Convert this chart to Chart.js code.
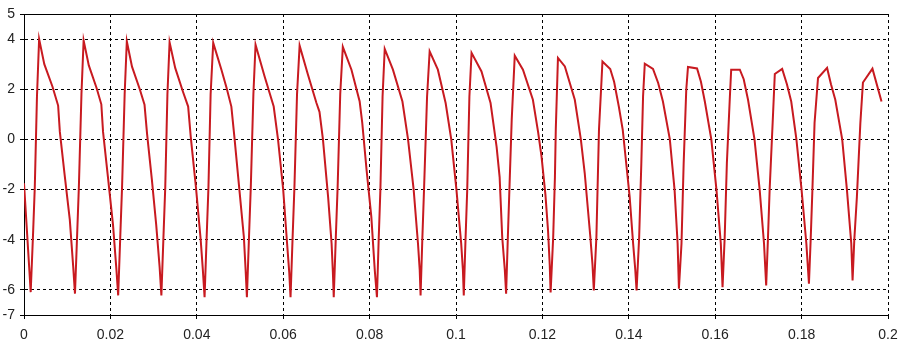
<!DOCTYPE html>
<html>
<head>
<meta charset="utf-8">
<script src="https://cdn.jsdelivr.net/npm/chart.js@4/dist/chart.umd.min.js"></script>
<style>
  html, body { margin: 0; padding: 0; background: #fff; }
  #wrap { width: 900px; height: 345px; position: relative; }
</style>
</head>
<body>
<div id="wrap"><canvas id="chart"></canvas></div>
<script>
/* waveform samples, one line per cycle */
const TIMES = [
  0, 0.0012, 0.00155,
  0.0021, 0.0025, 0.0030, 0.0035, 0.0047, 0.0066, 0.0079, 0.0083, 0.0094, 0.0106, 0.0114, 0.0118,
  0.0123, 0.0127, 0.0133, 0.0138, 0.0150, 0.0168, 0.0179, 0.0183, 0.0194, 0.0206, 0.0214, 0.0218,
  0.0223, 0.0227, 0.0233, 0.0238, 0.0250, 0.0268, 0.0279, 0.0285, 0.0296, 0.0306, 0.0314, 0.0318,
  0.0323, 0.0327, 0.0332, 0.0337, 0.0350, 0.0368, 0.0380, 0.0386, 0.0398, 0.0409, 0.0414, 0.0418,
  0.0423, 0.0427, 0.0432, 0.0438, 0.0457, 0.0469, 0.0480, 0.0487, 0.0498, 0.0509, 0.0513, 0.0516,
  0.0521, 0.0525, 0.0531, 0.0536, 0.0557, 0.0578, 0.0588, 0.0600, 0.0609, 0.0614, 0.0617,
  0.0622, 0.0626, 0.0632, 0.0638, 0.0657, 0.0677, 0.0684, 0.0692, 0.0704, 0.0712, 0.0715, 0.0717,
  0.0722, 0.0726, 0.0732, 0.0738, 0.0758, 0.0777, 0.0783, 0.0793, 0.0804, 0.0812, 0.0817,
  0.0821, 0.0825, 0.0830, 0.0835, 0.0854, 0.0876, 0.0889, 0.0902, 0.0912, 0.0916, 0.0918,
  0.0922, 0.0926, 0.0933, 0.0939, 0.0958, 0.0976, 0.0989, 0.1001, 0.1012, 0.1016, 0.1018,
  0.1022, 0.1026, 0.1031, 0.1036, 0.1059, 0.1080, 0.1094, 0.1101, 0.1107, 0.1113, 0.1116,
  0.1120, 0.1124, 0.1129, 0.1136, 0.1155, 0.1178, 0.1190, 0.1198, 0.1207, 0.1213, 0.1217, 0.1219,
  0.1225, 0.1229, 0.1231, 0.1236, 0.1252, 0.1275, 0.1289, 0.1298, 0.1311, 0.1316, 0.1319,
  0.1325, 0.1331, 0.1337, 0.1339, 0.1357, 0.1366, 0.1377, 0.1386, 0.1394, 0.1402, 0.1410, 0.1415, 0.1418,
  0.1424, 0.1429, 0.1433, 0.1437, 0.1456, 0.1468, 0.1479, 0.1495, 0.1506, 0.1513, 0.1516,
  0.1522, 0.1527, 0.1533, 0.1537, 0.1558, 0.1567, 0.1576, 0.1591, 0.1603, 0.1613, 0.1617,
  0.1622, 0.1627, 0.1634, 0.1637, 0.1657, 0.1666, 0.1676, 0.1691, 0.1703, 0.1713, 0.1718,
  0.1722, 0.1726, 0.1734, 0.1738, 0.1755, 0.1766, 0.1776, 0.1788, 0.1800, 0.1811, 0.1817,
  0.1821, 0.1825, 0.1830, 0.1838, 0.1859, 0.1868, 0.1878, 0.1894, 0.1905, 0.1915, 0.1918,
  0.1922, 0.1928, 0.1936, 0.1942, 0.1964, 0.1985
];
const VOLTS = [
  -1.75, -5.09, -6.09,
  -3.75, -1.9, 1.7, 4.0, 3.0, 2.1, 1.35, 0.3, -1.4, -3.2, -5.1, -6.15,
  -3.8, -1.9, 1.8, 3.95, 2.95, 2.05, 1.4, 0.3, -1.45, -3.4, -5.2, -6.22,
  -3.8, -1.9, 1.8, 3.91, 2.9, 2.0, 1.38, 0.2, -1.6, -3.4, -5.1, -6.22,
  -3.8, -1.9, 1.8, 3.87, 2.85, 1.9, 1.31, 0.1, -1.9, -4.0, -5.2, -6.29,
  -3.8, -1.9, 1.8, 3.85, 2.78, 2.05, 1.31, 0.1, -1.9, -3.9, -5.2, -6.29,
  -3.8, -1.9, 1.8, 3.78, 2.51, 1.31, 0.0, -2.0, -4.15, -5.3, -6.29,
  -3.8, -1.9, 1.8, 3.74, 2.6, 1.45, 1.1, 0.0, -2.3, -4.15, -5.3, -6.29,
  -3.8, -1.9, 1.8, 3.69, 2.78, 1.51, 0.66, -1.22, -3.09, -5.22, -6.29,
  -4.0, -2.0, 1.7, 3.61, 2.78, 1.51, 0.0, -2.0, -4.15, -5.2, -6.22,
  -4.0, -2.0, 1.7, 3.51, 2.78, 1.45, 0.0, -2.0, -4.15, -5.2, -6.22,
  -4.0, -2.0, 1.7, 3.45, 2.71, 1.45, -0.3, -1.5, -3.9, -5.2, -6.15,
  -3.9, -1.8, 0.8, 3.34, 2.78, 1.58, 0.3, -0.69, -2.2, -3.62, -5.0, -6.1,
  -3.89, -1.5, 0.4, 3.25, 2.91, 1.58, 0.0, -1.35, -3.89, -5.0, -6.02,
  -3.89, 0.4, 2.4, 3.11, 2.81, 2.3, 1.3, 0.38, -0.95, -2.29, -4.15, -5.2, -6.02,
  -3.89, -0.95, 1.71, 3.02, 2.81, 2.25, 1.51, 0.0, -2.02, -4.15, -5.95,
  -4.15, -0.95, 1.98, 2.89, 2.83, 2.3, 1.51, 0.0, -2.02, -4.15, -5.89,
  -3.89, -0.95, 1.71, 2.78, 2.78, 2.4, 1.58, 0.0, -2.02, -4.15, -5.82,
  -4.0, -2.02, 1.05, 2.61, 2.81, 2.2, 1.51, 0.0, -2.02, -4.15, -5.75,
  -4.0, -2.02, 0.66, 2.45, 2.85, 2.2, 1.58, 0.0, -2.02, -4.15, -5.62,
  -4.0, -2.29, 0.65, 2.27, 2.82, 1.51
];

const X_TICKS = [0, 0.02, 0.04, 0.06, 0.08, 0.1, 0.12, 0.14, 0.16, 0.18, 0.2];
const X_LABELS = ['0', '0.02', '0.04', '0.06', '0.08', '0.1', '0.12', '0.14', '0.16', '0.18', '0.2'];
const Y_TICKS = [-7, -6, -4, -2, 0, 2, 4, 5];

const LINE_COLOR = '#c81a20';
const FONT = { family: '"Liberation Sans", Arial, sans-serif', size: 14 };

const points = TIMES.map((t, i) => ({ x: t, y: VOLTS[i] }));

new Chart(document.getElementById('chart'), {
  type: 'line',
  data: {
    datasets: [{
      data: points,
      borderColor: LINE_COLOR,
      borderWidth: 2,
      pointRadius: 0,
      tension: 0,
      fill: false,
    }],
  },
  options: {
    responsive: true,
    maintainAspectRatio: false,
    animation: false,
    events: [],
    layout: { padding: { top: 14, right: 12, left: 0, bottom: 0 } },
    plugins: { legend: { display: false }, tooltip: { enabled: false } },
    scales: {
      x: {
        type: 'linear',
        min: 0,
        max: 0.2,
        afterBuildTicks: s => { s.ticks = X_TICKS.map(v => ({ value: v })); },
        afterFit: s => { s.height = 30; s.paddingRight = 0; },
        ticks: {
          color: '#222',
          font: { ...FONT, lineHeight: 1.6 },
          padding: 5,
          maxRotation: 0,
          autoSkip: false,
          callback: (v, i) => X_LABELS[i],
        },
        grid: { color: '#000', lineWidth: 1, tickLength: 4, tickColor: '#000' },
        border: { display: true, color: '#000', width: 1, dash: [3, 3] },
      },
      y: {
        min: -7,
        max: 5,
        afterBuildTicks: s => { s.ticks = Y_TICKS.map(v => ({ value: v })); },
        afterFit: s => { s.width = 24; },
        ticks: { color: '#222', font: FONT, padding: 5, autoSkip: false },
        grid: { color: '#000', lineWidth: 1, tickLength: 4, tickColor: '#000' },
        border: {
          display: true, color: '#000', width: 1,
          dash: c => (c.tick && c.tick.value === 5) ? [] : [3, 3],
        },
      },
    },
  },
});
</script>
</body>
</html>
